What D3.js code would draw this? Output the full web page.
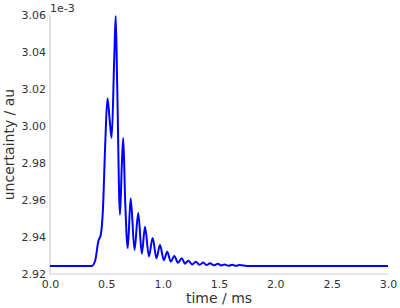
<!DOCTYPE html>
<html>
<head>
<meta charset="utf-8">
<script src="https://cdn.jsdelivr.net/npm/d3@7"></script>
<style>
  body { margin: 0; background: #fff; }
  svg { display: block; }
  .tick text { font-family: "DejaVu Sans", sans-serif; font-size: 11px; fill: #333; }
  .axis-title { font-family: "DejaVu Sans", sans-serif; font-size: 14px; fill: #333; }
</style>
</head>
<body>
<svg width="400" height="308"></svg>
<script>
// time in ms, uncertainty in units of 1e-3 au
var times = [0, 0.37, 0.40, 0.43, 0.45, 0.47, 0.49, 0.51, 0.53, 0.547, 0.57, 0.583, 0.597, 0.621, 0.637, 0.65, 0.667,
  0.69, 0.716, 0.75, 0.783, 0.815, 0.843, 0.878, 0.911, 0.945, 0.976, 1.01, 1.041, 1.072, 1.103, 1.136, 1.169,
  1.198, 1.227, 1.262, 1.295, 1.328, 1.36, 1.39, 1.42, 1.455, 1.49, 1.52, 1.55, 1.585, 1.62, 1.65, 1.68, 1.75, 3.0];
var uncertainty = [2.9243, 2.9243, 2.927, 2.938, 2.941, 2.955, 2.99, 3.015, 3.003, 2.9935, 3.036, 3.0595, 3.02, 2.952, 2.978, 2.9935, 2.96,
  2.934, 2.961, 2.933, 2.953, 2.931, 2.9456, 2.9295, 2.9395, 2.9285, 2.9357, 2.9275, 2.932, 2.9267, 2.9297, 2.9261, 2.9285,
  2.9256, 2.9272, 2.9252, 2.9266, 2.925, 2.9262, 2.9248, 2.9258, 2.9247, 2.9255, 2.9246, 2.9252, 2.9245, 2.925, 2.9244, 2.9248, 2.9243, 2.9243];
var xTicks = [0, 0.5, 1.0, 1.5, 2.0, 2.5, 3.0];
var yTicks = [2.92, 2.94, 2.96, 2.98, 3.00, 3.02, 3.04, 3.06];

var data = times.map(function(t, i) { return {t: t, v: uncertainty[i]}; });

var svg = d3.select("svg");
var margin = {top: 15, right: 12, bottom: 34, left: 50};
var width = 400 - margin.left - margin.right,
    height = 308 - margin.top - margin.bottom;

var x = d3.scaleLinear().domain([0, 3]).range([0, width]);
var y = d3.scaleLinear().domain([2.92, 3.06]).range([height, 0]);

var g = svg.append("g").attr("transform", "translate(" + margin.left + "," + margin.top + ")");

// spines
g.append("line").attr("x1", 0).attr("x2", 0).attr("y1", 0).attr("y2", height)
  .attr("stroke", "#cccccc").attr("stroke-width", 1.2);
g.append("line").attr("x1", 0).attr("x2", width).attr("y1", height).attr("y2", height)
  .attr("stroke", "#cccccc").attr("stroke-width", 1.2);

var xAxis = g.append("g")
  .attr("transform", "translate(0," + height + ")")
  .call(d3.axisBottom(x).tickValues(xTicks).tickFormat(d3.format(".1f")).tickSize(0).tickPadding(6));
xAxis.select(".domain").remove();

var yAxis = g.append("g")
  .call(d3.axisLeft(y).tickValues(yTicks).tickFormat(d3.format(".2f")).tickSize(0).tickPadding(4));
yAxis.select(".domain").remove();

var line = d3.line()
  .x(function(d) { return x(d.t); })
  .y(function(d) { return y(d.v); })
  .curve(d3.curveMonotoneX);

g.append("path")
  .datum(data)
  .attr("fill", "none")
  .attr("stroke", "#0000ff")
  .attr("stroke-width", 2)
  .attr("d", line);

// offset text
g.append("text")
  .attr("x", 0).attr("y", -3)
  .style("font-family", "DejaVu Sans, sans-serif").style("font-size", "11px").style("fill", "#333")
  .text("1e-3");

svg.append("text").attr("class", "axis-title")
  .attr("x", margin.left + width / 2).attr("y", 303)
  .attr("text-anchor", "middle")
  .text("time / ms");

svg.append("text").attr("class", "axis-title")
  .attr("transform", "translate(14," + (margin.top + height / 2) + ") rotate(-90)")
  .attr("text-anchor", "middle")
  .text("uncertainty / au");
</script>
</body>
</html>
